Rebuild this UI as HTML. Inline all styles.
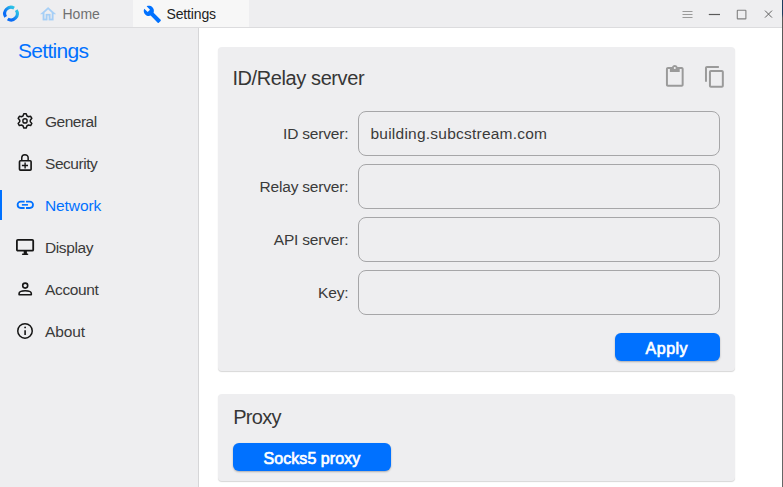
<!DOCTYPE html>
<html><head><meta charset="utf-8">
<style>
*{margin:0;padding:0;box-sizing:border-box}
html,body{width:783px;height:487px;overflow:hidden;background:#fff;font-family:"Liberation Sans",sans-serif;position:relative}
.abs{position:absolute;white-space:nowrap;line-height:1}
#tabbar{left:0;top:0;width:783px;height:28px;background:#eeeef0;border-bottom:1px solid #dcdcde}
#tab2{left:133px;top:0;width:116px;height:27px;background:#f7f7f7}
.tabtxt{font-size:14px}
#side{left:0;top:28px;width:199px;height:459px;background:#eeeef0;border-right:1px solid #d6d6d8}
.stitle{left:18px;top:40.2px;font-size:21px;letter-spacing:-0.7px;color:#0071ff}
.mi{left:45px;font-size:15.5px;letter-spacing:-0.1px;color:#3a3a3a}
.ico{position:absolute}
.card{left:218px;width:517px;background:#eeeef0;border-radius:4px;box-shadow:0 1px 1px rgba(0,0,0,0.16)}
.ctitle{font-size:20px;letter-spacing:-0.4px;color:#363636}
.lbl{font-size:15.5px;letter-spacing:-0.2px;color:#3a3a3a;text-align:right;width:200px;left:148.3px}
.inp{left:358px;width:362px;height:45px;border:1px solid #a6a6a8;border-radius:8px;background:#eeeef0}
.inptxt{left:370.5px;font-size:15.5px;letter-spacing:0.23px;color:#3a3a3a}
.btn{background:#0071ff;border-radius:6px;box-shadow:0 1px 2px rgba(0,0,0,0.28)}
.btxt{color:#fff;font-weight:normal;font-size:16px;-webkit-text-stroke:0.65px #fff}
</style></head><body>
<div id="tabbar" class="abs"></div>
<div id="tab2" class="abs"></div>
<!-- logo -->
<svg class="abs" style="left:0;top:0" width="24" height="28" viewBox="0 0 24 28">
  <defs><linearGradient id="lg" x1="1" y1="0" x2="0" y2="1"><stop offset="0.1" stop-color="#2ac0e6"/><stop offset="0.75" stop-color="#0a6cf6"/></linearGradient></defs>
  <path d="M5.66 16.94 A6.3 6.3 0 0 1 14.10 8.12" fill="none" stroke="url(#lg)" stroke-width="3.1"/>
  <path d="M16.22 10.08 A6.3 6.3 0 0 1 7.71 18.97" fill="none" stroke="url(#lg)" stroke-width="3.1"/>
</svg>
<!-- home icon (material outlined) -->
<svg class="abs" style="left:39.1px;top:4.9px" width="18.2" height="18.2" viewBox="0 0 24 24">
  <path fill="#a6cff7" stroke="#a6cff7" stroke-width="0.45" d="M12 5.69l5 4.5V18h-2v-6H9v6H7v-7.81l5-4.5M12 3L2 12h3v8h6v-6h2v6h6v-8h3L12 3z"/>
</svg>
<div class="abs tabtxt" style="left:62.5px;top:7px;color:#707070">Home</div>
<!-- wrench -->
<svg class="abs" style="left:143.1px;top:4.76px" width="18.7" height="18.7" viewBox="0 0 24 24">
  <path fill="#0071ff" d="M22.7 19l-9.1-9.1c.9-2.3.4-5-1.5-6.9-2-2-5-2.4-7.4-1.3L9 6 6 9 1.6 4.7C.4 7.1.9 10.1 2.9 12.1c1.9 1.9 4.6 2.4 6.9 1.5l9.1 9.1c.4.4 1 .4 1.4 0l2.3-2.3c.5-.4.5-1.1.1-1.4z"/>
</svg>
<div class="abs tabtxt" style="left:166.5px;top:7.4px;color:#222;letter-spacing:-0.15px">Settings</div>
<!-- window controls -->
<svg class="abs" style="left:670px;top:0" width="113" height="28" viewBox="0 0 113 28">
  <path d="M12.5 11.5H22.5M12.5 14.5H22.5M12.5 17.5H22.5" stroke="#9a9a9a" stroke-width="1"/>
  <path d="M38.8 14.5H50" stroke="#5a5a5a" stroke-width="1.2"/>
  <rect x="67.3" y="10.3" width="8.6" height="8.6" rx="0.5" fill="none" stroke="#808080" stroke-width="1.1"/>
  <path d="M95 10.6L102 17.6M102 10.6L95 17.6" stroke="#606060" stroke-width="1"/>
</svg>
<div class="abs" style="left:782px;top:0;width:1px;height:487px;background:linear-gradient(#1d3c5e 0,#1d3c5e 14px,#5a5a5a 18px,#666 100%)"></div>

<!-- sidebar -->
<div id="side" class="abs"></div>
<div class="abs stitle">Settings</div>
<div class="abs" style="left:0;top:190px;width:2px;height:30px;background:#0071ff"></div>
<!-- general gear -->
<svg class="ico" style="left:14px;top:110px" width="22" height="22" viewBox="-11 -10.9 22 22">
  <path fill="none" stroke="#161616" stroke-width="1.5" stroke-linejoin="round" d="M-2.00 -4.91L-1.20 -7.20L1.20 -7.20L2.00 -4.91A5.30 5.30 0 0 1 3.25 -4.19L5.64 -4.64L6.84 -2.56L5.25 -0.72A5.30 5.30 0 0 1 5.25 0.72L6.84 2.56L5.64 4.64L3.25 4.19A5.30 5.30 0 0 1 2.00 4.91L1.20 7.20L-1.20 7.20L-2.00 4.91A5.30 5.30 0 0 1 -3.25 4.19L-5.64 4.64L-6.84 2.56L-5.25 0.72A5.30 5.30 0 0 1 -5.25 -0.72L-6.84 -2.56L-5.64 -4.64L-3.25 -4.19A5.30 5.30 0 0 1 -2.00 -4.91Z"/>
  <circle cx="0" cy="0" r="2.15" fill="none" stroke="#161616" stroke-width="1.4"/>
</svg>
<div class="abs mi" style="top:113.9px;letter-spacing:-0.5px">General</div>
<!-- security lock -->
<svg class="ico" style="left:14px;top:151px" width="22" height="22" viewBox="0 0 22 22">
  <path d="M7.75 9.75V6.85A3.2 3.2 0 0 1 14.15 6.85V9.75" fill="none" stroke="#161616" stroke-width="1.5"/>
  <rect x="5.5" y="9.75" width="11.6" height="9.4" rx="1" fill="none" stroke="#161616" stroke-width="1.65"/>
  <path d="M11.1 11.6V17.4M7.9 14.5H14" stroke="#161616" stroke-width="1.4"/>
</svg>
<div class="abs mi" style="top:155.9px;letter-spacing:-0.45px">Security</div>
<!-- network link -->
<svg class="ico" style="left:14px;top:194px" width="22" height="22" viewBox="0 0 22 22">
  <path d="M10.6 7.7H6.75A3.15 3.15 0 0 0 6.75 14H10.6M12 7.7H15.85A3.15 3.15 0 0 1 15.85 14H12" fill="none" stroke="#0071ff" stroke-width="1.8"/>
  <path d="M7.9 10.85H14" stroke="#0071ff" stroke-width="1.6"/>
</svg>
<div class="abs mi" style="top:197.9px;color:#0071ff;letter-spacing:-0.1px">Network</div>
<!-- display monitor -->
<svg class="ico" style="left:14px;top:236px" width="22" height="22" viewBox="0 0 22 22">
  <rect x="2.9" y="3.8" width="16.3" height="10.9" rx="1" fill="none" stroke="#161616" stroke-width="1.8"/>
  <rect x="9.7" y="15" width="3.2" height="3" fill="#161616"/>
  <rect x="7.9" y="17.4" width="6.4" height="1.7" rx="0.8" fill="#161616"/>
</svg>
<div class="abs mi" style="top:239.5px;letter-spacing:-0.4px">Display</div>
<!-- account -->
<svg class="ico" style="left:14px;top:278px" width="22" height="22" viewBox="0 0 22 22">
  <circle cx="11.2" cy="7.6" r="2.5" fill="none" stroke="#161616" stroke-width="1.6"/>
  <path d="M5.1 16.8V15.5C5.1 13.5 8.5 12.8 11.2 12.8C13.9 12.8 17.3 13.5 17.3 15.5V16.8Z" fill="none" stroke="#161616" stroke-width="1.6" stroke-linejoin="round"/>
</svg>
<div class="abs mi" style="top:281.5px;letter-spacing:-0.35px">Account</div>
<!-- about -->
<svg class="ico" style="left:14px;top:320px" width="22" height="22" viewBox="0 0 22 22">
  <circle cx="11" cy="10.9" r="7.25" fill="none" stroke="#161616" stroke-width="1.5"/>
  <circle cx="11.1" cy="7.4" r="0.9" fill="#161616"/>
  <path d="M11.1 10.2V14.9" stroke="#161616" stroke-width="1.6"/>
</svg>
<div class="abs mi" style="top:323.5px">About</div>

<!-- card 1 -->
<div class="abs card" style="top:47px;height:324px"></div>
<div class="abs ctitle" style="left:232.4px;top:68.1px">ID/Relay server</div>
<!-- clipboard (material content_paste) -->
<svg class="abs" style="left:663.2px;top:65.1px" width="23.6" height="23.6" viewBox="0 0 24 24">
  <path fill="#9a9a9a" d="M19 2h-4.18C14.4.84 13.3 0 12 0S9.6.84 9.18 2H5c-1.1 0-2 .9-2 2v16c0 1.1.9 2 2 2h14c1.1 0 2-.9 2-2V4c0-1.1-.9-2-2-2zm-7 0c.55 0 1 .45 1 1s-.45 1-1 1-1-.45-1-1 .45-1 1-1zm7 18H5V4h2v3h10V4h2v16z"/>
</svg>
<!-- copy (material content_copy) -->
<svg class="abs" style="left:702.9px;top:65px" width="23.8" height="23.8" viewBox="0 0 24 24">
  <path fill="#9a9a9a" d="M16 1H4c-1.1 0-2 .9-2 2v14h2V3h12V1zm3 4H8c-1.1 0-2 .9-2 2v14c0 1.1.9 2 2 2h11c1.1 0 2-.9 2-2V7c0-1.1-.9-2-2-2zm0 16H8V7h11v14z"/>
</svg>

<div class="abs lbl" style="top:126.4px">ID server:</div>
<div class="abs inp" style="top:111px"></div>
<div class="abs inptxt" style="top:125.5px">building.subcstream.com</div>
<div class="abs lbl" style="top:179.4px">Relay server:</div>
<div class="abs inp" style="top:164px"></div>
<div class="abs lbl" style="top:232.4px">API server:</div>
<div class="abs inp" style="top:217px"></div>
<div class="abs lbl" style="top:285.4px">Key:</div>
<div class="abs inp" style="top:270px"></div>
<div class="abs btn" style="left:615px;top:333px;width:105px;height:28px"></div>
<div class="abs btxt" style="left:645.6px;top:340.6px;letter-spacing:0.5px">Apply</div>

<!-- card 2 -->
<div class="abs card" style="top:394px;height:87px"></div>
<div class="abs ctitle" style="left:233.2px;top:407.1px;letter-spacing:-0.7px">Proxy</div>
<div class="abs btn" style="left:233px;top:443px;width:158px;height:28px"></div>
<div class="abs btxt" style="left:263.6px;top:450.5px;letter-spacing:0.05px">Socks5 proxy</div>
</body></html>
